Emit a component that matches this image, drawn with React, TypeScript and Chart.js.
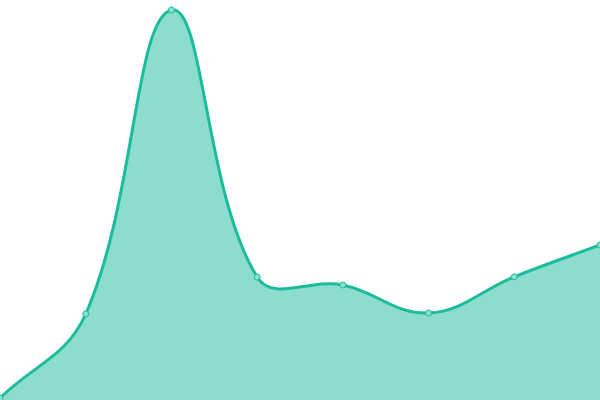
import React, { useEffect, useRef } from 'react';
import Chart from 'chart.js/auto';

const labels = ['1', '2', '3', '4', '5', '6', '7', '8'];
const values = [0.5, 21.5, 97.5, 30.75, 28.75, 21.75, 30.8, 38.75];

export default function App() {
    const chartRef = useRef<HTMLCanvasElement | null>(null);

    useEffect(() => {
        if (!chartRef.current) return;
        document.body.style.margin = '0';

        const chart = new Chart(chartRef.current, {
            type: 'line',
            data: {
                labels,
                datasets: [
                    {
                        data: values,
                        borderColor: '#1abc9c',
                        backgroundColor: 'rgba(26, 188, 156, 0.5)',
                        pointBackgroundColor: '#8ddece',
                        pointBorderColor: '#1abc9c',
                        pointRadius: 3,
                        pointBorderWidth: 1,
                        borderWidth: 3,
                        tension: 0.4,
                        fill: true,
                    },
                ],
            },
            options: {
                animation: false,
                responsive: true,
                maintainAspectRatio: false,
                layout: { padding: 0, autoPadding: false },
                scales: {
                    x: { display: false },
                    y: { display: false, min: 0, max: 100 },
                },
                plugins: {
                    legend: { display: false },
                    tooltip: { enabled: false },
                },
            },
        });

        return () => chart.destroy();
    }, []);

    return (
        <div style={{ position: 'fixed', left: 0, top: 0, width: 600, height: 400, background: '#fff' }}>
            <canvas ref={chartRef}></canvas>
        </div>
    );
}
